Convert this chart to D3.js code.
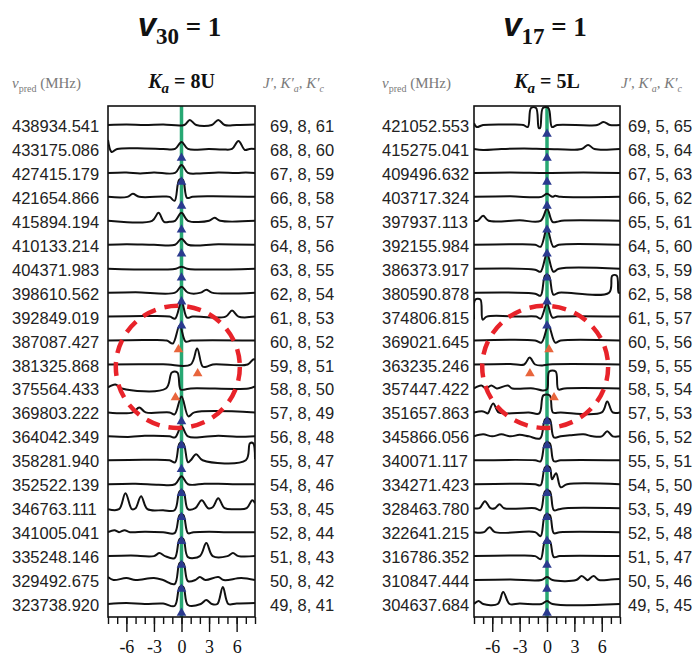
<!DOCTYPE html>
<html>
<head>
<meta charset="utf-8">
<script src="https://cdn.jsdelivr.net/npm/d3@7"></script>
<style>
  body { margin: 0; background: #fff; }
  svg { display: block; }
</style>
</head>
<body>
<svg id="chart" width="700" height="662"></svg>
<script>
// ---- Predicted line frequencies (MHz) and upper-state quantum numbers ----
const freqs30 = ["438934.541","433175.086","427415.179","421654.866","415894.194","410133.214",
  "404371.983","398610.562","392849.019","387087.427","381325.868","375564.433","369803.222",
  "364042.349","358281.940","352522.139","346763.111","341005.041","335248.146","329492.675","323738.920"];
const quanta30 = ["69, 8, 61","68, 8, 60","67, 8, 59","66, 8, 58","65, 8, 57","64, 8, 56","63, 8, 55",
  "62, 8, 54","61, 8, 53","60, 8, 52","59, 8, 51","58, 8, 50","57, 8, 49","56, 8, 48","55, 8, 47",
  "54, 8, 46","53, 8, 45","52, 8, 44","51, 8, 43","50, 8, 42","49, 8, 41"];
const freqs17 = ["421052.553","415275.041","409496.632","403717.324","397937.113","392155.984",
  "386373.917","380590.878","374806.815","369021.645","363235.246","357447.422","351657.863",
  "345866.056","340071.117","334271.423","328463.780","322641.215","316786.352","310847.444","304637.684"];
const quanta17 = ["69, 5, 65","68, 5, 64","67, 5, 63","66, 5, 62","65, 5, 61","64, 5, 60","63, 5, 59",
  "62, 5, 58","61, 5, 57","60, 5, 56","59, 5, 55","58, 5, 54","57, 5, 53","56, 5, 52","55, 5, 51",
  "54, 5, 50","53, 5, 49","52, 5, 48","51, 5, 47","50, 5, 46","49, 5, 45"];

// offset axis (MHz from prediction)
const offsetDomain = [-8, 8];
const minorTicks = [-8,-7,-6,-5,-4,-3,-2,-1,0,1,2,3,4,5,6,7,8];
const majorTicks = [-6, -3, 0, 3, 6];

// ---- Spectrum segments: [offset MHz, intensity] per row ----
const traces30 = [
  [[-8,0],[-6,0.5],[-4,0],[-2,0.5],[0.3,0],[0.9,5],[1.6,0],[3.3,0],[4,5],[4.7,0],[6,0],[8,0.5]],
  [[-8,9],[-7.6,-3],[-7,0],[-4,0.5],[-2,0],[-0.7,0],[0,7],[0.7,0],[3,0],[4.5,-0.5],[5.5,0],[6.2,8],[6.9,-1],[7.4,0],[8,0]],
  [[-8,0],[-6,0.5],[-4.5,-0.5],[-3,0.5],[-0.7,0],[0,8],[0.7,0],[2,-0.5],[4,0.5],[6,0],[7,0.5],[8,0]],
  [[-8,0],[-5.9,0],[-5.3,3],[-4.6,0],[-2,0.3],[-1.3,0],[-0.75,-4],[-0.25,17],[0.15,17],[0.6,-1],[1.2,0],[3,0.5],[8,0]],
  [[-8,0],[-3.2,0],[-2.5,8],[-1.9,-1],[-1.3,-1],[-0.7,0],[0,8],[0.7,0],[3,0],[3.6,3],[4.2,0],[8,0]],
  [[-8,0],[-6,0.5],[-3,0],[-0.7,0],[0,6],[0.7,0],[4,0.5],[8,0]],
  [[-8,0],[-0.6,0],[0,2],[0.6,0],[8,0]],
  [[-8,0],[-5,0.5],[-0.7,0],[0,6],[0.7,0],[2.1,0],[2.7,3],[3.3,0],[8,0]],
  [[-8,0],[-4,0.5],[-1.3,0],[-0.7,-2],[0,15],[0.6,-1],[1.2,0],[4.8,0],[5.5,6],[6.2,0],[8,0]],
  [[-8,0],[-4,0.5],[-1.6,0],[-0.95,-3],[-0.2,15],[0.45,-1],[1.1,0],[8,0]],
  [[-8,0],[-2,0.3],[1.0,0],[1.7,16],[2.3,-2],[2.8,-2],[3.4,0],[7.2,0],[7.8,5],[8,5]],
  [[-8,1],[-7.2,4],[-6.5,0],[-1.7,0],[-1.05,16],[-0.45,16],[-0.1,-1],[0.4,-1],[1,0],[7.3,0],[8,2]],
  [[-8,0],[-5.3,0],[-4.6,5],[-3.9,0],[-1.3,0],[-0.75,-2],[0,16],[0.75,-4],[1.4,0],[8,0]],
  [[-8,0],[-5.5,-0.5],[-4,0.5],[-1.3,0],[-0.7,-1],[0,10],[0.7,0],[2.5,-0.5],[4,0.5],[6,-0.5],[8,0]],
  [[-8,0],[-4,0.5],[-1.3,0],[-0.7,-2],[-0.2,17],[0.2,17],[0.7,-2],[1.0,0],[1.6,6],[2.3,0],[7.0,0],[7.45,17],[7.8,17],[8,1]],
  [[-8,0],[-5,0.5],[-2.5,-0.5],[-0.7,0],[0,8],[0.7,0],[2.5,0.5],[4,0.5],[6,0],[8,0]],
  [[-8,-1],[-6.8,-1],[-6.1,15],[-5.4,-1],[-5.0,0],[-4.4,12],[-3.7,-1],[-2,-2],[-0.75,-2],[-0.2,17],[0.2,17],[0.7,-1],[1.5,0],[2.2,8],[2.9,0],[3.4,1],[4.0,10],[4.7,0],[6,-1],[7.1,0],[7.7,8],[8,5]],
  [[-8,0],[-7.3,2],[-6.8,0],[-6.2,2],[-5.6,0],[-4,0.5],[-2,0],[-0.75,-1],[-0.2,17],[0.2,17],[0.7,-1],[1.3,0],[3,0.5],[5,0],[8,0]],
  [[-8,0],[-5.5,0.5],[-3,0],[-2.4,3],[-1.8,0],[-0.75,-2],[-0.2,17],[0.2,17],[0.7,-1],[2.0,0],[2.7,13],[3.4,0],[5.0,0],[5.6,3],[6.2,0],[8,0]],
  [[-8,3],[-7.4,0],[-6,2],[-5,0],[-3,2],[-2,0],[-0.75,-4],[-0.2,17],[0.2,17],[0.7,-1],[1.5,0],[2,3],[2.6,0],[4,3],[4.6,0],[6.5,2],[8,0]],
  [[-8,0],[-6,1],[-4,0],[-2,0.5],[-0.75,-2],[-0.2,17],[0.2,17],[0.7,-1],[2.1,0],[2.7,4],[3.3,0],[3.9,0],[4.5,17],[5.1,0],[6,0.5],[8,1]]
];
const traces17 = [
  [[-8,2],[-7.7,-2],[-7,0],[-4,0.5],[-2.6,0],[-2.1,-2],[-1.75,17],[-1.2,17],[-0.9,-3],[-0.75,-3],[-0.45,17],[0.15,17],[0.55,-2],[1.1,0],[5.5,0],[6.2,3],[6.9,0],[8,0]],
  [[-8,0],[-7,-1],[-5,0],[-2.5,0.5],[0,0],[3.8,0],[4.5,4],[5.2,0],[8,0]],
  [[-8,0],[-4,0.5],[0,0],[4,0.3],[8,0]],
  [[-8,0],[-4,0.5],[-0.6,0],[0,3],[0.6,0],[0.9,1],[1.5,0],[8,0]],
  [[-8,0],[-7.6,0],[-7.0,5],[-6.4,0],[-3,0.5],[-0.7,0],[0,12],[0.6,-1],[1.1,-1],[1.6,0],[8,0]],
  [[-8,0],[-4,0.5],[-1.3,0],[-0.7,-2],[0,16],[0.7,-2],[1.3,0],[8,0]],
  [[-8,0],[-1.3,-1],[-0.7,-3],[0,15],[0.7,-3],[1.3,0],[8,0]],
  [[-8,0],[-1.3,-1],[-0.7,-3],[-0.2,17],[0.2,17],[0.7,-2],[1.3,0],[6.8,0],[7.15,17],[7.65,17],[7.85,0],[8,0]],
  [[-8,-3],[-7.85,17],[-7.3,17],[-7.05,-3],[-6.6,0],[-3,0],[-1.2,0],[-0.7,-2],[0,13],[0.6,-1],[1.2,0],[8,0]],
  [[-8,0],[-1.3,0],[-0.6,-2],[0.15,15],[0.9,-2],[1.5,0],[8,0]],
  [[-8,0],[-4,0.5],[-2.5,0],[-1.9,7],[-1.3,0],[-0.5,-1],[0.2,0],[8,0]],
  [[-8,0],[-7.2,3],[-6.7,0],[-6.1,3],[-5.5,0],[-4.3,3],[-3.8,0],[-1.5,0],[-0.5,-2],[0,-1],[0.25,17],[0.95,17],[1.25,-1],[1.9,0],[8,0]],
  [[-8,0],[-7,1],[-6.5,-1],[-6.4,0],[-5.9,9],[-5.3,0],[-4.5,-1],[-2,0],[-0.85,-1],[-0.4,17],[0.3,17],[0.65,0],[1.5,0],[6.0,0],[6.6,11],[7.2,0],[8,0]],
  [[-8,0],[-7,2],[-6,0],[-5,2],[-4,0],[-3,1.5],[-2,0],[-0.75,-2],[-0.2,17],[0.3,17],[0.75,-1],[1.5,0],[2.5,1],[4,2],[5,0],[6.0,0],[6.6,5],[7.2,0],[8,0]],
  [[-8,0],[-1.3,0],[-0.7,-1],[-0.2,17],[0.3,17],[0.75,-1],[1.5,0],[8,0]],
  [[-8,0],[-3,0.5],[-1.3,0],[-0.7,-1],[-0.2,17],[0.3,17],[0.55,5],[1.0,11],[1.5,-3],[2.2,0],[8,0]],
  [[-8,0],[-7.4,0],[-6.8,7],[-6.2,0],[-5.7,0],[-5.2,4],[-4.7,0],[-1.3,0],[-0.7,-2],[-0.2,17],[0.3,17],[0.75,-2],[1.3,-1],[2,0],[8,0]],
  [[-8,0],[-6.9,0],[-6.3,5],[-5.7,0],[-1.3,0],[-0.7,-4],[-0.2,17],[0.3,17],[0.75,-1],[1.4,0],[8,0]],
  [[-8,0],[-4,0.5],[-1.3,0],[-0.7,-3],[-0.2,15],[0.3,15],[0.75,-1],[1.4,0],[8,0]],
  [[-8,0],[-4,0.5],[-0.6,0],[0,3],[0.6,0],[3.2,0],[3.8,4],[4.4,0],[4.5,0],[5.1,4],[5.7,0],[7,0.5],[8,1]],
  [[-8,0],[-7.5,3],[-7,0],[-5.4,0],[-4.8,12],[-4.1,0],[-3,0.5],[-0.6,0],[0,3],[0.6,0],[8,0]]
];

// rows carrying a predicted-position marker (offset 0)
const predicted30 = [1,2,3,4,5,6,7,8,12,13,14,15,16,17,18,19,20];
const predicted17 = [0,1,2,3,4,5,6,7,8,12,13,14,15,16,17,18,19,20];
// perturbed rows: [row, observed offset MHz]
const observed30 = [[9,-0.33],[10,1.76],[11,-0.66]];
const observed17 = [[9,0.22],[10,-1.87],[11,0.77]];
// highlighted perturbation region: [centre offset, centre row, half-width MHz, half-height rows]
const region30 = [-0.4, 10.1, 6.75, 2.55];
const region17 = [-0.2, 10.1, 6.9, 2.55];

const svg = d3.select("#chart");
const serif = "'Liberation Serif','Times New Roman',serif";
const sans = "'Liberation Sans',Arial,sans-serif";

const row = d3.scaleLinear().domain([0, 20]).range([125, 604]);
const amp = d3.scaleLinear().domain([0, 17]).range([0, -17]);
const boxTop = 106, boxBottom = 617;

function drawPanel(cfg) {
  const x = d3.scaleLinear().domain(offsetDomain).range([cfg.x0, cfg.x1]);
  const cx = x(0);
  const g = svg.append("g");

  // title
  const t = g.append("text").attr("x", cx - 2).attr("y", 36).attr("text-anchor", "middle").attr("fill", "#111");
  t.append("tspan").text("v").style("font", `italic bold 33px ${sans}`);
  t.append("tspan").text(cfg.mode).attr("dy", 8).style("font", `bold 23px ${serif}`);
  t.append("tspan").text(" = 1").attr("dy", -8).style("font", `bold 27px ${serif}`);

  // column headers
  const h1 = g.append("text").attr("x", cfg.freqX).attr("y", 88).attr("fill", "#7a7a7a")
    .style("font", `15px ${serif}`);
  h1.append("tspan").text("ν").style("font-style", "italic");
  h1.append("tspan").text("pred").attr("dy", 4).style("font-size", "10px");
  h1.append("tspan").text(" (MHz)").attr("dy", -4);

  const h2 = g.append("text").attr("x", cx).attr("y", 88).attr("text-anchor", "middle").attr("fill", "#111")
    .style("font", `bold 20px ${serif}`);
  h2.append("tspan").text("K").style("font-style", "italic");
  h2.append("tspan").text("a").attr("dy", 5).style("font-style", "italic").style("font-size", "15px");
  h2.append("tspan").text(" = " + cfg.ka).attr("dy", -5);

  const h3 = g.append("text").attr("x", cfg.qnX - 7).attr("y", 88).attr("fill", "#7a7a7a")
    .style("font", `italic 15px ${serif}`);
  h3.append("tspan").text("J′, K′");
  h3.append("tspan").text("a").attr("dy", 4).style("font-size", "10px");
  h3.append("tspan").text(", K′").attr("dy", -4);
  h3.append("tspan").text("c").attr("dy", 4).style("font-size", "10px");

  // row labels
  g.selectAll("text.freq").data(cfg.freqs).join("text").attr("class", "freq")
    .attr("x", cfg.freqX).attr("y", (d, i) => row(i) + 7)
    .attr("fill", "#222").style("font", `16.5px ${sans}`).text(d => d);
  g.selectAll("text.qn").data(cfg.quanta).join("text").attr("class", "qn")
    .attr("x", cfg.qnX).attr("y", (d, i) => row(i) + 7)
    .attr("fill", "#222").style("font", `16.5px ${sans}`).text(d => d);

  // prediction line
  g.append("line").attr("x1", cx).attr("x2", cx).attr("y1", boxTop).attr("y2", boxBottom)
    .attr("stroke", "#27a873").attr("stroke-width", 3.5);

  // spectra
  const clipId = "clip" + cfg.mode;
  g.append("clipPath").attr("id", clipId).append("rect")
    .attr("x", cfg.x0).attr("y", boxTop).attr("width", cfg.x1 - cfg.x0).attr("height", boxBottom - boxTop);
  const line = d3.line().curve(d3.curveCatmullRom.alpha(0.5));
  g.append("g").attr("clip-path", `url(#${clipId})`)
    .selectAll("path").data(cfg.traces).join("path")
    .attr("d", (pts, i) => line(pts.map(p => [x(p[0]), row(i) + amp(p[1])])))
    .attr("fill", "none").attr("stroke", "#111").attr("stroke-width", 2).attr("stroke-linejoin", "round");

  // markers
  const tri = d3.symbol(d3.symbolTriangle, 40);
  g.selectAll("path.pred").data(cfg.predicted).join("path").attr("class", "pred")
    .attr("d", tri).attr("transform", r => `translate(${cx},${row(r) + 9})`).attr("fill", "#2b3a8f");
  g.selectAll("path.obs").data(cfg.observed).join("path").attr("class", "obs")
    .attr("d", tri).attr("transform", d => `translate(${x(d[1])},${row(d[0]) + 9})`).attr("fill", "#e8653c");

  // frame
  g.append("rect").attr("x", cfg.x0).attr("y", boxTop).attr("width", cfg.x1 - cfg.x0).attr("height", boxBottom - boxTop)
    .attr("fill", "none").attr("stroke", "#111").attr("stroke-width", 1.6);

  // offset axis: unlabelled minor ticks every 1 MHz, labelled major ticks every 3 MHz
  const ax = g.append("g").attr("transform", `translate(0,${boxBottom})`);
  ax.append("g").call(d3.axisBottom(x).tickValues(minorTicks).tickSize(7).tickFormat(() => ""));
  const major = ax.append("g").call(d3.axisBottom(x).tickValues(majorTicks).tickSize(15).tickPadding(8)
    .tickFormat(d => d < 0 ? "-" + Math.abs(d) : String(d)));
  ax.selectAll(".domain").remove();
  ax.selectAll("line").attr("stroke", "#111").attr("stroke-width", 1.4);
  major.selectAll("text").attr("fill", "#111").style("font", `18px ${serif}`);

  // highlighted region
  const r = cfg.region;
  g.append("ellipse").attr("cx", x(r[0])).attr("cy", row(r[1]))
    .attr("rx", x(r[2]) - x(0)).attr("ry", row(r[3]) - row(0))
    .attr("fill", "none").attr("stroke", "#e8232a").attr("stroke-width", 4.5).attr("stroke-dasharray", "14 9");
}

drawPanel({ mode: "30", ka: "8U", x0: 108, x1: 255, freqX: 12, qnX: 270,
  freqs: freqs30, quanta: quanta30, traces: traces30, predicted: predicted30, observed: observed30, region: region30 });
drawPanel({ mode: "17", ka: "5L", x0: 474, x1: 620, freqX: 382, qnX: 628,
  freqs: freqs17, quanta: quanta17, traces: traces17, predicted: predicted17, observed: observed17, region: region17 });
</script>
</body>
</html>
